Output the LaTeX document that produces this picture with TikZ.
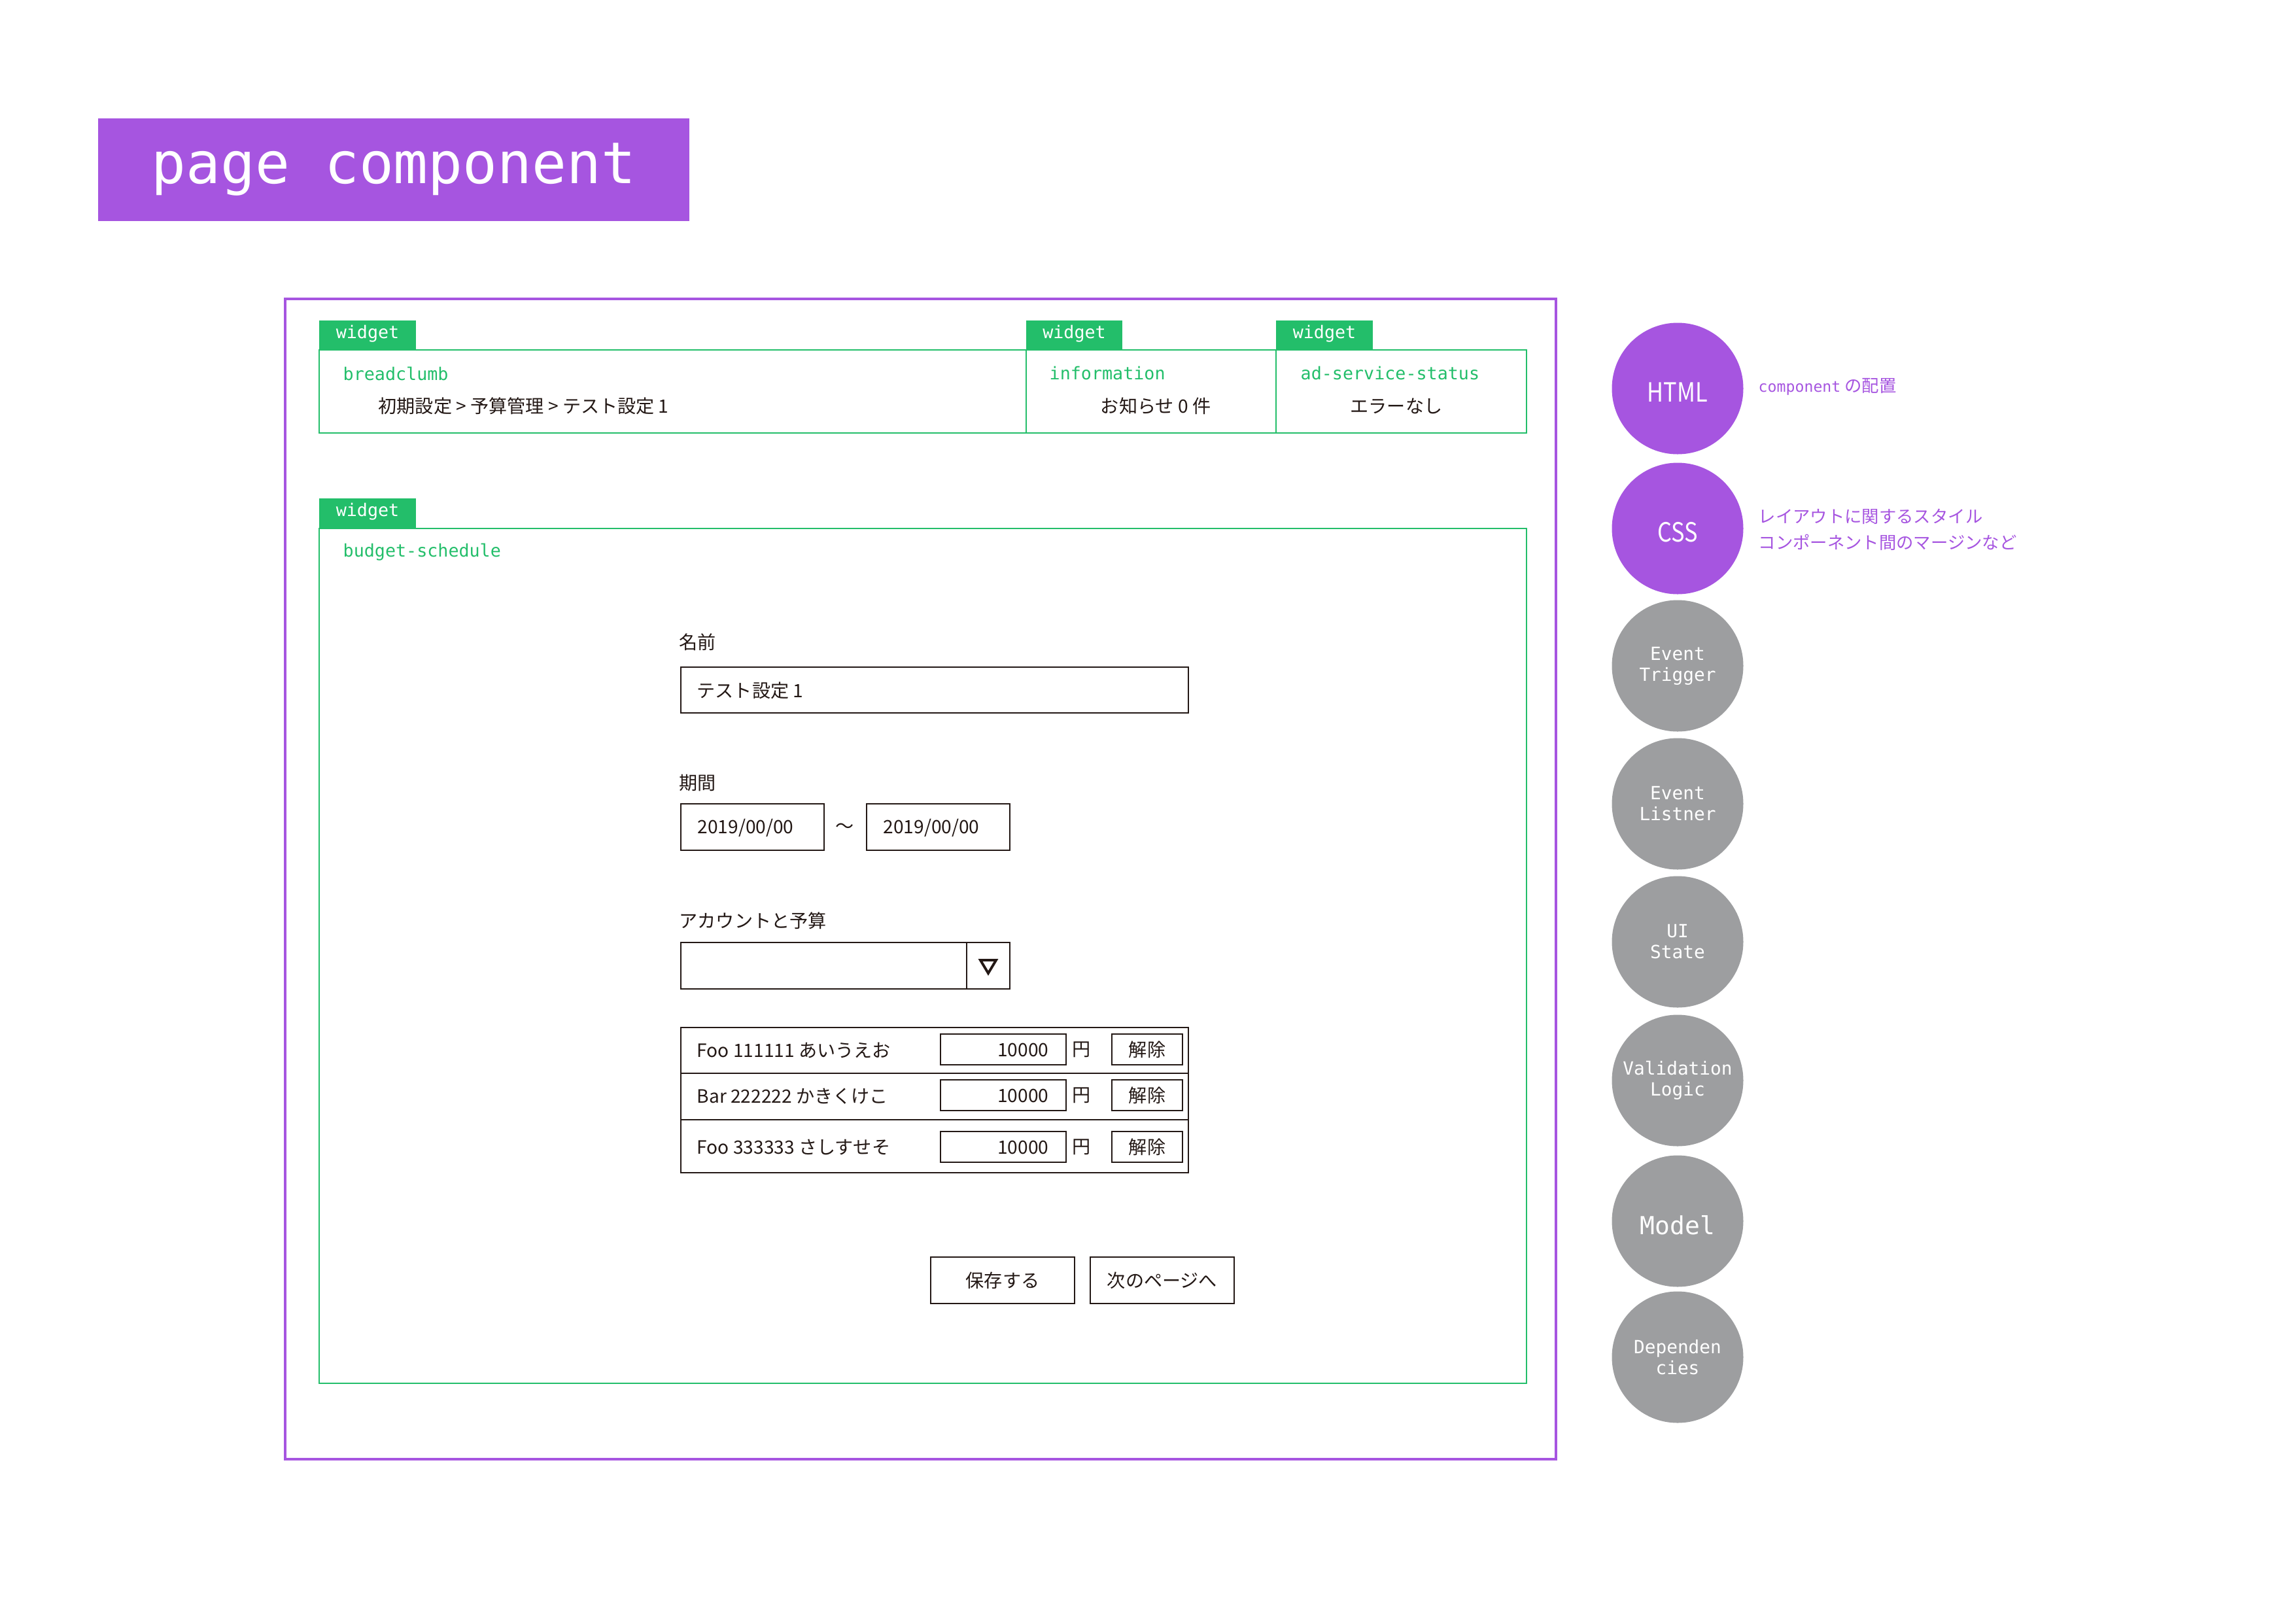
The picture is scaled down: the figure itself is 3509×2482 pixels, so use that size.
\documentclass[tikz,border=0pt]{standalone}
\usepackage{fontspec}
\setmainfont{Noto Sans CJK JP}
\newfontfamily\jp{Noto Sans CJK JP}
\newfontfamily\jpn[FakeStretch=0.85]{Noto Sans CJK JP}
\newfontfamily\mono{DejaVu Sans Mono}
\usetikzlibrary{fit}
\definecolor{ppl}{RGB}{166,85,224}
\definecolor{wgr}{RGB}{35,190,106}
\definecolor{cgray}{RGB}{157,158,160}
\definecolor{ink}{RGB}{35,24,21}
\begin{document}
\begin{tikzpicture}[x=0.1mm,y=-0.1mm,
  wbox/.style={draw=wgr,line width=0.8pt,inner sep=0pt},
  tabbox/.style={fill=wgr,inner sep=0pt},
  tabtxt/.style={inner sep=0pt,text=white,font=\mono\fontsize{7.6}{9}\selectfont},
  wname/.style={anchor=west,inner sep=0pt,text=wgr,font=\mono\fontsize{7.6}{9}\selectfont},
  body/.style={anchor=west,inner sep=0pt,text=ink,font=\jp\fontsize{8}{10}\selectfont},
  bodyc/.style={body,anchor=center},
  bodye/.style={body,anchor=east},
  inbox/.style={draw=ink,line width=0.8pt,inner sep=0pt},
  circ/.style={circle,minimum size=20.1mm,inner sep=0pt,text=white,align=center},
  pcirc/.style={circ,fill=ppl},
  pctxt/.style={inner sep=0pt,text=white,font=\jpn\fontsize{11.5}{13}\selectfont},
  gcirc/.style={circ,fill=cgray,font=\mono\fontsize{7.9}{9.1}\selectfont},
  note/.style={anchor=west,inner sep=0pt,text=ppl,align=left,font=\jp\fontsize{7.5}{11.4}\selectfont}
]
\useasboundingbox (0,0) rectangle (3509,2482);

% title
\node[fit={(150,181)(1054,338)},fill=ppl,inner sep=0pt] (title) {};
\node[text=white,font=\mono\fontsize{25}{30}\selectfont,inner sep=0pt] (titletxt) at (title.center) {page component};

% outer frame
\node[fit={(436,457)(2379,2231)},draw=ppl,line width=1pt,inner sep=0pt] (frame) {};

% top widgets
\node[wbox,fit={(488,535)(1569,662)}] (bc) {};
\node[wbox,fit={(1569,535)(1951,662)}] (info) {};
\node[wbox,fit={(1951,535)(2334,662)}] (ad) {};
\node[tabbox,fit={(488,490)(636,536)}] (tab1) {};
\node[tabbox,fit={(1569,490)(1716,536)}] (tab2) {};
\node[tabbox,fit={(1951,490)(2099,536)}] (tab3) {};
\node[tabtxt] (tab1t) at ([yshift=0.3mm]tab1.center) {widget};
\node[tabtxt] (tab2t) at ([yshift=0.3mm]tab2.center) {widget};
\node[tabtxt] (tab3t) at ([yshift=0.3mm]tab3.center) {widget};
\node[wname] (bcname) at (524,571) {breadclumb};
\node[wname] (infoname) at (1604,571) {information};
\node[wname] (adname) at (1988,571) {ad-service-status};
\node[body] (bctxt) at (578,621) {初期設定 > 予算管理 > テスト設定 1};
\node[bodyc] (infotxt) at (1767,621) {お知らせ 0 件};
\node[bodyc] (adtxt) at (2135,621) {エラーなし};

% budget schedule widget
\node[wbox,fit={(488,808)(2334,2115)}] (bs) {};
\node[tabbox,fit={(488,762)(636,809)}] (tab4) {};
\node[tabtxt] (tab4t) at ([yshift=0.3mm]tab4.center) {widget};
\node[wname] (bsname) at (524,844) {budget-schedule};

\node[body] (lname) at (1038,982) {名前};
\node[inbox,fit={(1041,1020)(1817,1090)}] (namein) {};
\node[body] (nametxt) at (1065,1056) {テスト設定 1};

\node[body] (lperiod) at (1038,1197) {期間};
\node[inbox,fit={(1041,1229)(1260,1300)}] (d1) {};
\node[inbox,fit={(1325,1229)(1544,1300)}] (d2) {};
\node[body] (d1txt) at (1066,1266) {2019/00/00};
\node[body] (d2txt) at (1350,1266) {2019/00/00};
\node[bodyc] (tilde) at (1292,1266) {〜};

\node[body] (lacct) at (1038,1408) {アカウントと予算};
\node[inbox,fit={(1041,1441)(1544,1512)}] (dd) {};
\coordinate (ddt) at (1478,1441);
\coordinate (ddb) at (1478,1512);
\draw[ink,line width=0.8pt] (ddt) -- (ddb);
\coordinate (tri1) at (1499,1468);
\coordinate (tri2) at (1523,1468);
\coordinate (tri3) at (1511,1488);
\draw[ink,line width=1.1pt,line join=miter] (tri1) -- (tri2) -- (tri3) -- cycle;

% table
\node[inbox,fit={(1041,1571)(1817,1793)}] (tbl) {};
\coordinate (r1l) at (1041,1641); \coordinate (r1r) at (1817,1641);
\coordinate (r2l) at (1041,1712); \coordinate (r2r) at (1817,1712);
\draw[ink,line width=0.8pt] (r1l) -- (r1r) (r2l) -- (r2r);

\node[body] (row1) at (1065,1606) {Foo 111111 あいうえお};
\node[body] (row2) at (1065,1676) {Bar 222222 かきくけこ};
\node[body] (row3) at (1065,1754) {Foo 333333 さしすせそ};

\node[inbox,fit={(1438,1581)(1630,1628)}] (in1) {};
\node[inbox,fit={(1438,1651)(1630,1698)}] (in2) {};
\node[inbox,fit={(1438,1730)(1630,1777)}] (in3) {};
\node[bodye] (v1) at (1604,1605) {10000};
\node[bodye] (v2) at (1604,1675) {10000};
\node[bodye] (v3) at (1604,1754) {10000};
\node[bodyc] (y1) at (1654,1605) {円};
\node[bodyc] (y2) at (1654,1675) {円};
\node[bodyc] (y3) at (1654,1754) {円};
\node[inbox,fit={(1700,1581)(1808,1628)}] (x1) {};
\node[inbox,fit={(1700,1651)(1808,1698)}] (x2) {};
\node[inbox,fit={(1700,1730)(1808,1777)}] (x3) {};
\node[bodyc] (x1t) at (x1.center) {解除};
\node[bodyc] (x2t) at (x2.center) {解除};
\node[bodyc] (x3t) at (x3.center) {解除};

% buttons
\node[inbox,fit={(1423,1922)(1643,1993)}] (save) {};
\node[inbox,fit={(1667,1922)(1887,1993)}] (next) {};
\node[bodyc] (savet) at (save.center) {保存する};
\node[bodyc] (nextt) at (next.center) {次のページへ};

% circles
\node[pcirc] (html) at (2565,594) {};
\node[pcirc] (css) at (2565,808) {};
\node[pctxt] (htmlt) at ([yshift=-0.6mm]html.center) {HTML};
\node[pctxt] (csst) at ([yshift=-0.6mm]css.center) {CSS};
\node[gcirc] (et) at (2565,1018) {Event\\Trigger};
\node[gcirc] (el) at (2565,1229) {Event\\Listner};
\node[gcirc] (ui) at (2565,1440) {UI\\State};
\node[gcirc] (vl) at (2565,1652) {Validation\\Logic};
\node[gcirc] (model) at (2565,1867) {};
\node[inner sep=0pt,text=white,font=\mono\fontsize{10.8}{13}\selectfont] (modelt) at ([yshift=-0.6mm]model.center) {Model};
\node[gcirc] (dep) at (2565,2075) {Dependen\\cies};

\node[note] (htmlnote) at (2688,591) {{\mono\fontsize{6.6}{8}\selectfont component} の配置};
\node[note] (cssnote) at (2688,810) {レイアウトに関するスタイル\\コンポーネント間のマージンなど};
\end{tikzpicture}
\end{document}
